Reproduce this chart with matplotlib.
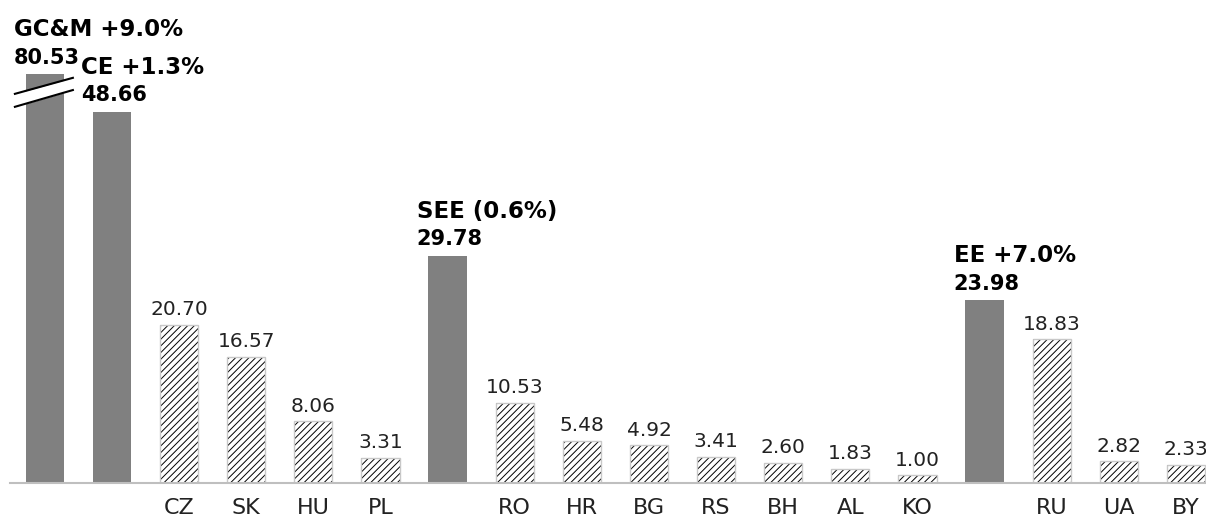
import numpy as np
import matplotlib
matplotlib.use('Agg')
import matplotlib.pyplot as plt

# data
cats = ['GC&M', 'CE', 'CZ', 'SK', 'HU', 'PL', 'SEE', 'RO', 'HR', 'BG', 'RS', 'BH', 'AL', 'KO', 'EE', 'RU', 'UA', 'BY']
values = [80.53, 48.66, 20.70, 16.57, 8.06, 3.31, 29.78, 10.53, 5.48, 4.92, 3.41, 2.60, 1.83, 1.00, 23.98, 18.83, 2.82, 2.33]
regions = ['GC&M', 'CE', 'SEE', 'EE']
growth = ['+9.0%', '+1.3%', '(0.6%)', '+7.0%']
axis_cap = 53.6   # GC&M bar is cut at this height (broken axis)

plt.rcParams['font.family'] = ['DejaVu Sans']
plt.rcParams['hatch.linewidth'] = 0.7
fig = plt.figure(figsize=(12.06, 5.2), dpi=100)
ax = fig.add_axes([10/1206, 37/520, 1 - 10/1206, 1 - 37/520])

x = np.arange(len(cats))
shown = [min(v, axis_cap) for v in values]
is_reg = [c in regions for c in cats]
w = 0.57

for i, (c, v, h) in enumerate(zip(cats, values, shown)):
    if is_reg[i]:
        ax.bar(i, h, w, color='#808080', lw=0)
    else:
        ax.bar(i, h, w, color='white', edgecolor='black', hatch='/////', lw=0)
        ax.bar(i, h, w, fill=False, edgecolor='#c8c8c8', lw=1)
        ax.annotate(f'{v:.2f}', (i, h), xytext=(0, 7), textcoords='offset points',
                    ha='center', va='baseline', fontsize=14.5, color='#222222')

for r, g in zip(regions, growth):
    i = cats.index(r)
    v = values[i]
    ax.annotate(f'{v:.2f}', (i - 0.46, shown[i]), xytext=(0, 7.5),
                textcoords='offset points', ha='left', va='baseline',
                fontsize=15, fontweight='bold', color='black')
    ax.annotate(f'{r} {g}', (i - 0.46, shown[i]), xytext=(0, 27.5),
                textcoords='offset points', ha='left', va='baseline',
                fontsize=16.5, fontweight='bold', color='black')

# axis break marks on the capped bar
i = cats.index('GC&M')
bx = np.array([i - 0.447, i + 0.417])
up = axis_cap - np.array([2.6, 0.5])
lo = axis_cap - np.array([4.3, 2.1])
ax.fill_between(bx, lo, up, color='white', zorder=3, lw=0)
ax.plot(bx, up, color='black', lw=1.5, zorder=4)
ax.plot(bx, lo, color='black', lw=1.5, zorder=4)

ax.set_xlim(-0.52, 17.30)
ax.set_ylim(0, 63.3)
ax.set_xticks(x)
ax.set_xticklabels(['' if r else c for c, r in zip(cats, is_reg)], fontsize=16, color='#222222')
ax.tick_params(axis='x', length=0, pad=11)
ax.set_yticks([])
for s in ['top', 'right', 'left']:
    ax.spines[s].set_visible(False)
ax.spines['bottom'].set_color('#bfbfbf')
ax.spines['bottom'].set_linewidth(1.5)
ax.patch.set_alpha(0)

fig.savefig('out.png', dpi=100)
